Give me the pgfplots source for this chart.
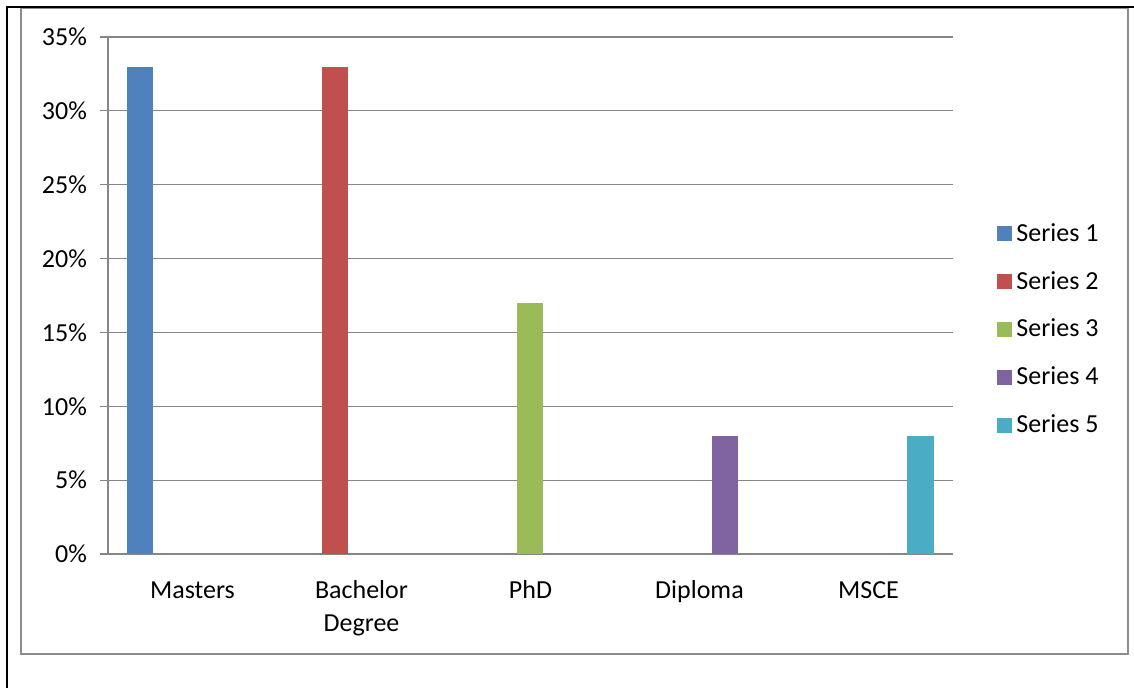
\documentclass[border=0pt]{standalone}
\usepackage{pgfplots}
\pgfplotsset{compat=1.18}
\usepackage{fontspec}
\setmainfont{Carlito}
\definecolor{s1}{HTML}{4F81BD}
\definecolor{s2}{HTML}{C0504D}
\definecolor{s3}{HTML}{9BBB59}
\definecolor{s4}{HTML}{8064A2}
\definecolor{s5}{HTML}{4BACC6}
\definecolor{axgray}{HTML}{868686}
\begin{document}
\begin{tikzpicture}[x=1pt,y=1pt]
\useasboundingbox (-54,-66.5) rectangle (513,277);
\draw[line width=0.8pt, color=black!45] (-43.5,-50) rectangle (510,273);
\draw[line width=1.1pt, black] (-50.5,-67) -- (-50.5,273.5) -- (514,273.5);
\begin{axis}[
  at={(0,0)}, anchor=south west,
  scale only axis, width=422.5pt, height=258.5pt,
  ybar=0pt, bar width=13pt,
  xmin=-0.5, xmax=4.5, ymin=0, ymax=35,
  xtick={0,1,2,3,4},
  xticklabels={Masters,{Bachelor\\Degree},PhD,Diploma,MSCE},
  major x tick style={draw=none},
  extra x ticks={-0.5,0.5,1.5,2.5,3.5,4.5},
  extra x tick labels={},
  extra x tick style={major tick length=4pt, tick style={draw=axgray, line width=0.6pt}},
  ytick={0,5,...,35},
  yticklabel={\pgfmathprintnumber{\tick}\%},
  ymajorgrids, grid style={axgray, line width=0.6pt},
  major tick length=4pt, tick align=outside,
  y tick style={draw=axgray, line width=0.6pt},
  axis x line*=bottom, axis y line*=left,
  axis line style={axgray, line width=0.6pt, -},
  tick label style={font=\fontsize{13}{16.5}\selectfont},
  /pgf/number format/assume math mode=true,
  typeset ticklabels with strut,
  yticklabel style={xshift=-3pt},
  xticklabel style={align=center, anchor=north, yshift=-3pt},
  legend style={at={(1,0.5)}, anchor=west, xshift=22pt, yshift=-17pt, draw=none, fill=none,
    font=\fontsize{13}{16.5}\selectfont, row sep=9.5pt, inner sep=0pt},
  legend cell align=left,
  legend image code/.code={\fill[#1] (0pt,-3.75pt) rectangle (7.5pt,3.75pt);},
]
\addplot[fill=s1, draw=none] coordinates {(0,33)};
\addplot[fill=s2, draw=none] coordinates {(1,33)};
\addplot[fill=s3, draw=none] coordinates {(2,17)};
\addplot[fill=s4, draw=none] coordinates {(3,8)};
\addplot[fill=s5, draw=none] coordinates {(4,8)};
\legend{Series 1,Series 2,Series 3,Series 4,Series 5}
\end{axis}
\end{tikzpicture}
\end{document}
